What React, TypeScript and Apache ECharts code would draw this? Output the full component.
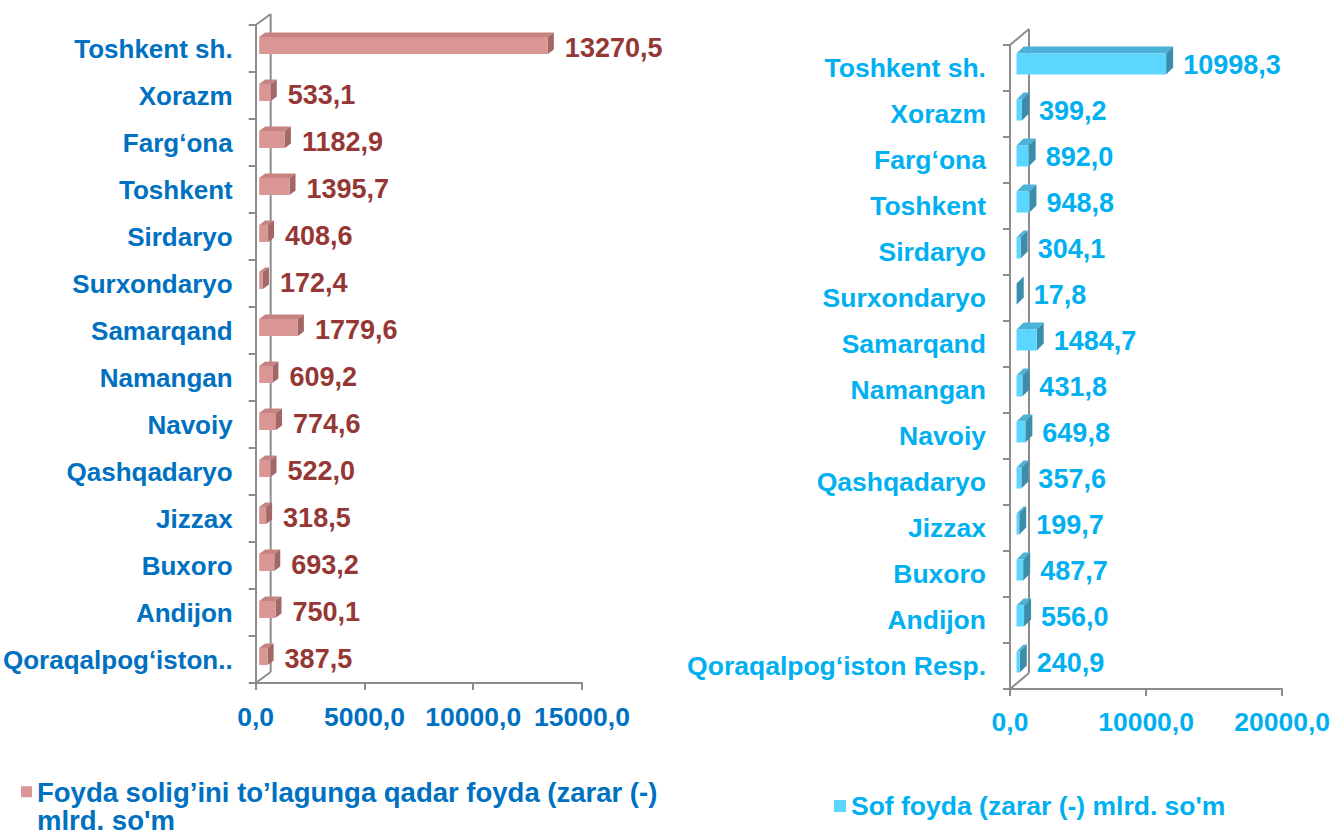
import React, { useEffect, useRef } from "react";
import * as echarts from "echarts";

const LEFT_CATEGORIES = [
  "Toshkent sh.", "Xorazm", "Farg‘ona", "Toshkent", "Sirdaryo", "Surxondaryo", "Samarqand",
  "Namangan", "Navoiy", "Qashqadaryo", "Jizzax", "Buxoro", "Andijon", "Qoraqalpog‘iston Resp.",
];
const RIGHT_CATEGORIES = [...LEFT_CATEGORIES];
const LEFT_VALUES = [13270.5, 533.1, 1182.9, 1395.7, 408.6, 172.4, 1779.6, 609.2, 774.6, 522.0, 318.5, 693.2, 750.1, 387.5];
const RIGHT_VALUES = [10998.3, 399.2, 892.0, 948.8, 304.1, 17.8, 1484.7, 431.8, 649.8, 357.6, 199.7, 487.7, 556.0, 240.9];
const LEFT_NAME = "Foyda solig’ini to’lagunga qadar foyda (zarar (-) mlrd. so'm";
const RIGHT_NAME = "Sof foyda (zarar (-) mlrd. so'm";
const LEFT_TICKS = { min: 0, max: 15000, interval: 5000 };
const RIGHT_TICKS = { min: 0, max: 20000, interval: 10000 };

const FONT = "'Liberation Sans', Arial, sans-serif";
const fmt = (v: number) => v.toFixed(1).replace(".", ",");

type BarStyle = {
  front: string; top: string; side: string; label: string;
  ox: number; oy: number; dx: number; dy: number; thick: number; labelGap: number; labelDy: number;
};

const LEFT_STYLE: BarStyle = {
  front: "#D99694", top: "#C58482", side: "#A26866", label: "#953735",
  ox: 3.5, oy: -3, dx: 6, dy: -4.5, thick: 17, labelGap: 17, labelDy: -1,
};
const RIGHT_STYLE: BarStyle = {
  front: "#5DD6FF", top: "#4BB3D8", side: "#3B8DAB", label: "#00B0F0",
  ox: 6.5, oy: -4, dx: 7, dy: -7, thick: 21, labelGap: 17, labelDy: -3,
};

function barRenderer(s: BarStyle) {
  return (params: any, api: any) => {
    const v = api.value(0);
    const c = api.value(1);
    const p0 = api.coord([0, c]);
    const p1 = api.coord([v, c]);
    const x0 = p0[0] + s.ox;
    const x1 = p1[0] + s.ox;
    const yc = p0[1] + s.oy;
    const y0 = yc - s.thick / 2;
    const y1 = yc + s.thick / 2;
    return {
      type: "group",
      children: [
        {
          type: "polygon",
          shape: { points: [[x0, y0], [x1, y0], [x1 + s.dx, y0 + s.dy], [x0 + s.dx, y0 + s.dy]] },
          style: { fill: s.top },
        },
        {
          type: "polygon",
          shape: { points: [[x1, y0], [x1 + s.dx, y0 + s.dy], [x1 + s.dx, y1 + s.dy], [x1, y1]] },
          style: { fill: s.side },
        },
        {
          type: "rect",
          shape: { x: x0, y: y0, width: Math.max(x1 - x0, 0.5), height: s.thick },
          style: { fill: s.front },
        },
        {
          type: "text",
          style: {
            text: fmt(v), x: x1 + s.labelGap, y: p0[1] + s.labelDy,
            align: "left", verticalAlign: "middle",
            fill: s.label, fontSize: 27, fontWeight: "bold", fontFamily: FONT,
          },
        },
      ],
    };
  };
}

function boxRenderer(n: number, bx: number, by: number) {
  return (params: any, api: any) => {
    const pTop = api.coord([0, 0]);
    const pBot = api.coord([0, n - 1]);
    const band = api.size([0, 1])[1];
    const gx = pTop[0];
    const top = pTop[1] - band / 2;
    const bot = pBot[1] + band / 2;
    const ls = { stroke: "#8C8C8C", lineWidth: 2 };
    return {
      type: "group",
      children: [
        { type: "line", shape: { x1: gx, y1: top, x2: gx + bx, y2: top + by }, style: ls },
        { type: "line", shape: { x1: gx + bx, y1: top + by, x2: gx + bx, y2: bot + by }, style: ls },
        { type: "line", shape: { x1: gx, y1: bot, x2: gx + bx, y2: bot + by }, style: ls },
      ],
    };
  };
}

const axisLineStyle = { lineStyle: { color: "#8C8C8C", width: 2 } };

export default function App() {
  const ref = useRef<HTMLDivElement>(null);
  useEffect(() => {
    if (!ref.current) return;
    const chart = echarts.init(ref.current, undefined, { renderer: "svg" });
    const option: any = {
      animation: false,
      backgroundColor: "#FFFFFF",
      grid: [
        { left: 255, top: 25, width: 327, height: 658 },
        { left: 1010, top: 45, width: 273, height: 644 },
      ],
      xAxis: [
        {
          type: "value", gridIndex: 0, ...LEFT_TICKS,
          axisLine: { show: true, ...axisLineStyle },
          axisTick: { show: true, length: 7, lineStyle: { color: "#8C8C8C", width: 2 } },
          splitLine: { show: false },
          axisLabel: {
            formatter: (v: number) => fmt(v), color: "#0070C0", fontSize: 26.5,
            fontWeight: "bold", fontFamily: FONT, margin: 20,
          },
        },
        {
          type: "value", gridIndex: 1, ...RIGHT_TICKS,
          axisLine: { show: true, ...axisLineStyle },
          axisTick: { show: true, length: 7, lineStyle: { color: "#8C8C8C", width: 2 } },
          splitLine: { show: false },
          axisLabel: {
            formatter: (v: number) => fmt(v), color: "#00B0F0", fontSize: 26.5,
            fontWeight: "bold", fontFamily: FONT, margin: 19,
          },
        },
      ],
      yAxis: [
        {
          type: "category", gridIndex: 0, inverse: true, data: LEFT_CATEGORIES,
          axisLine: { show: true, ...axisLineStyle },
          axisTick: { show: true, length: 7, lineStyle: { color: "#8C8C8C", width: 2 } },
          axisLabel: {
            color: "#0070C0", fontSize: 26, fontWeight: "bold", fontFamily: FONT, margin: 23,
            formatter: (v: string) => (v === "Qoraqalpog‘iston Resp." ? "Qoraqalpog‘iston.." : v),
          },
        },
        {
          type: "category", gridIndex: 1, inverse: true, data: RIGHT_CATEGORIES,
          axisLine: { show: true, ...axisLineStyle },
          axisTick: { show: true, length: 7, lineStyle: { color: "#8C8C8C", width: 2 } },
          axisLabel: {
            color: "#00B0F0", fontSize: 26.5, fontWeight: "bold", fontFamily: FONT, margin: 24,
          },
        },
      ],
      legend: [
        {
          left: 21, top: 778, orient: "horizontal", padding: 0,
          itemWidth: 11, itemHeight: 40,
          data: [{ name: LEFT_NAME, icon: "path://M0 0H10V10H0Z M0 35.99H0.01V36H0Z", itemStyle: { color: "#D99694" } }],
          formatter: (name: string) => name.replace(" mlrd.", "\nmlrd."),
          textStyle: { color: "#0070C0", fontSize: 27.5, fontWeight: "bold", fontFamily: FONT, lineHeight: 28 },
        },
        {
          left: 834, top: 792, orient: "horizontal", padding: 0,
          itemWidth: 12, itemHeight: 12,
          data: [{ name: RIGHT_NAME, icon: "rect", itemStyle: { color: "#5DD6FF" } }],
          textStyle: { color: "#00B0F0", fontSize: 26.5, fontWeight: "bold", fontFamily: FONT, lineHeight: 28 },
        },
      ],
      series: [
        {
          type: "custom", name: "box-left", xAxisIndex: 0, yAxisIndex: 0, clip: false, z: 1,
          data: [[0, 0]], renderItem: boxRenderer(LEFT_CATEGORIES.length, 15, -11), silent: true,
        },
        {
          type: "custom", name: "box-right", xAxisIndex: 1, yAxisIndex: 1, clip: false, z: 1,
          data: [[0, 0]], renderItem: boxRenderer(RIGHT_CATEGORIES.length, 19, -16), silent: true,
        },
        {
          type: "custom", name: LEFT_NAME, xAxisIndex: 0, yAxisIndex: 0, clip: false, z: 3,
          itemStyle: { color: "#D99694" },
          encode: { x: 0, y: 1 },
          data: LEFT_VALUES.map((v, i) => [v, i]),
          renderItem: barRenderer(LEFT_STYLE),
        },
        {
          type: "custom", name: RIGHT_NAME, xAxisIndex: 1, yAxisIndex: 1, clip: false, z: 3,
          itemStyle: { color: "#5DD6FF" },
          encode: { x: 0, y: 1 },
          data: RIGHT_VALUES.map((v, i) => [v, i]),
          renderItem: barRenderer(RIGHT_STYLE),
        },
      ],
    };
    chart.setOption(option);
    return () => chart.dispose();
  }, []);
  return (
    <div
      ref={ref}
      style={{ position: "fixed", left: 0, top: 0, width: 1333, height: 835, background: "#fff" }}
    />
  );
}
